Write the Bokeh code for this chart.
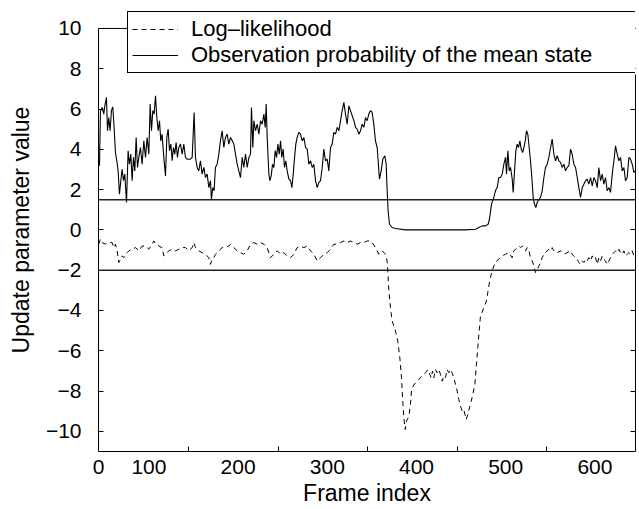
from bokeh.plotting import figure
from bokeh.models import (Range1d, FixedTicker, LinearAxis, Span, Legend,
                          LegendItem, CustomJSTickFormatter)
from bokeh.embed import file_html
from bokeh.resources import INLINE

# ---------------- data ----------------
obs_frame = [
    44.6, 45.7, 47.6, 49.4, 50.6, 52.4, 53.6, 55.0, 56.5, 58.0, 59.5, 61.0, 62.5, 64.0, 65.5,
    67.0, 68.5, 70.0, 71.5, 73.0, 74.9, 76.7, 78.2, 79.7, 81.2, 82.7, 84.2, 85.7, 87.2, 88.7,
    90.5, 92.4, 94.3, 96.2, 98.0, 99.9, 101.4, 102.9, 104.4, 105.9, 107.4, 108.9, 110.4, 111.9,
    113.3, 114.8, 116.7, 118.6, 120.1, 121.6, 123.1, 124.6, 126.1, 127.5, 129.0, 130.5, 132.0,
    133.5, 135.4, 137.3, 139.1, 141.0, 142.9, 144.7, 146.6, 148.5, 150.7, 152.2, 154.1, 155.9,
    157.8, 159.7, 161.6, 163.4, 165.3, 167.2, 169.0, 170.1, 171.6, 173.1, 174.6, 176.5, 178.4,
    180.2, 182.1, 184.0, 185.8, 187.7, 189.6,
    191.5, 193.4, 195.2, 197.1, 199.0, 200.8, 202.7, 204.6, 206.4, 208.3, 210.2, 212.1, 213.9,
    215.0, 216.5, 217.7, 219.5, 221.4, 223.3, 225.1, 227.0, 228.9,
    230.4, 231.5, 232.6, 234.5, 235.6, 237.1, 238.6, 240.1, 241.6, 243.1, 244.6, 246.1, 247.6,
    249.0, 250.5, 252.0, 253.5, 255.0, 256.9, 258.8, 260.3, 261.8, 263.3, 264.7,
    266.2, 268.1, 270.0, 271.8, 273.7, 275.6, 277.5, 279.3, 281.2, 283.1, 284.9, 286.8, 288.7,
    290.5, 292.4, 294.3, 296.1, 298.0, 299.9, 301.7, 303.6, 305.5, 307.3, 309.2, 311.1, 313.0,
    314.8, 316.7, 318.6, 320.4, 322.3, 324.2, 326.0, 327.9, 329.8, 331.6, 333.5, 335.4, 337.2,
    339.1, 341.0,
    342.8, 344.7, 346.5, 348.4, 350.3, 352.1, 354.0, 355.9, 357.0, 358.5, 360.4, 362.2, 364.5,
    366.0, 367.1, 368.2, 369.7, 372.7, 376.4, 387.6, 417.5, 454.9, 466.1, 469.9, 473.6, 477.3,
    480.3, 481.8, 484.1, 486.7, 488.5, 490.4, 492.3,
    494.2, 496.1, 497.9, 499.8, 500.9, 502.4, 503.9, 505.4, 507.3, 508.4, 509.9, 511.4, 512.9,
    514.4, 515.9, 517.4, 518.9, 520.4, 521.9, 523.3, 524.8, 526.3, 527.8, 529.3, 530.8, 532.3,
    533.8, 535.3, 537.2, 539.0, 540.9, 542.8, 544.6, 546.5, 548.4, 550.3, 552.1, 554.0, 555.9,
    557.7, 559.6, 561.5, 563.3, 565.2, 567.1, 568.9, 570.8, 572.7, 574.5, 576.4, 578.3, 580.2,
    582.0, 583.9, 585.8, 587.6, 589.5, 591.4, 593.2, 595.1, 597.0, 598.8, 600.7, 602.6, 604.4,
    606.3, 608.2, 610.0, 611.9, 613.8, 615.7, 617.5, 619.4, 621.3, 623.1, 625.0, 626.9, 628.7,
    630.6, 632.5, 634.3, 636.2, 638.1, 639.9, 641.8, 643.7, 645.5,
]
obs_value = [
    3.18, 5.92, 6.08, 5.75, 6.16, 6.58, 4.92, 5.58, 4.92, 5.92, 6.11, 5.09, 3.84, 3.43, 2.93,
    1.77, 2.44, 3.01, 2.44, 2.77, 1.36, 3.93, 3.26, 3.76, 2.44, 3.60, 2.93, 4.59, 3.10, 3.60,
    4.09, 3.26, 4.42, 3.60, 4.59, 3.76, 6.25, 4.92, 5.92, 5.75, 6.66, 5.58, 4.92, 5.42,
    4.42, 4.75, 3.60, 2.68, 4.59, 5.00, 3.93, 4.26, 3.43, 4.09, 3.76, 4.34, 3.60,
    4.09, 4.26, 3.76, 4.26, 3.60, 3.51, 3.51, 3.51, 3.60, 5.83, 3.60, 3.10, 2.93,
    3.43, 2.77, 3.10, 2.60, 2.77, 2.10, 2.44, 1.52, 2.10, 1.94, 3.10, 3.26, 3.76,
    4.42, 4.92, 4.09, 4.59, 4.75, 4.26,
    4.59, 4.42, 4.26, 3.76, 3.26, 2.93, 2.60, 3.60, 3.10, 3.76, 3.10, 3.60, 3.76,
    6.08, 4.09, 5.42, 4.92, 5.25, 4.75, 5.42, 5.25, 5.75,
    5.09, 6.25, 4.59, 2.77, 2.44, 2.68, 3.26, 3.10, 3.93, 3.60, 4.26, 3.76, 4.42,
    3.60, 4.01, 3.10, 3.43, 2.93, 2.52, 2.44, 2.10, 2.77, 3.60, 4.26,
    4.59, 4.84, 4.75, 4.42, 4.59, 4.09, 4.01, 3.26, 3.43, 3.10, 3.26, 2.44, 2.10,
    2.35, 2.44, 3.10, 4.01, 3.43, 3.51, 2.93, 4.09, 4.26, 4.84, 4.75, 5.09, 4.92,
    5.42, 5.92, 6.33, 5.75, 5.25, 6.16, 5.92, 5.67, 5.42, 5.09, 5.00, 4.75, 4.92,
    5.25, 5.09,
    5.58, 5.42, 5.75, 5.92, 5.83, 5.25, 4.42, 4.09, 3.43, 2.52, 2.93, 3.51, 3.68,
    3.26, 1.94, 0.94, 0.28, 0.12, 0.07, 0.00, 0.00, 0.00, 0.03, 0.12, 0.20, 0.20,
    0.28, 0.53, 1.28, 1.61, 1.94, 2.10, 2.60,
    2.60, 2.77, 3.26, 3.60, 2.77, 3.93, 2.93, 3.10, 2.52, 1.86, 2.93, 3.93, 4.26,
    4.09, 4.42, 4.01, 3.84, 4.09, 4.42, 4.92, 4.75, 4.09, 3.43, 2.60, 1.61, 1.27,
    1.11, 1.36, 1.52, 1.61, 1.94, 2.60, 3.10, 3.26, 3.60, 4.09, 4.51, 3.76, 3.43,
    3.68, 3.43, 3.35, 3.10, 3.26, 2.93, 3.10, 3.18, 4.01, 3.76, 3.26, 3.10, 2.60,
    2.10, 1.61, 2.10, 2.27, 2.44, 2.52, 2.27, 2.60, 2.19, 2.60, 2.44, 2.10, 3.10,
    2.44, 2.77, 2.27, 2.60, 1.94, 2.10, 1.86, 2.77, 3.43, 4.17, 3.76, 3.43, 3.60,
    2.93, 3.10, 2.44, 2.60, 3.60, 3.51, 3.26, 2.85, 2.93,
]

ll_frame = [
    43.8, 45.7, 47.6, 51.3, 55.0, 58.8, 60.7, 62.5, 64.4, 66.3, 68.1, 70.0, 71.9, 73.7, 75.6,
    77.5, 81.2, 85.0, 88.7, 92.4, 96.2, 99.9, 103.6, 105.5, 107.4, 111.1, 114.8, 116.7, 118.6,
    122.3, 126.1, 129.8, 133.5, 137.3, 141.0, 144.7, 148.5, 150.3, 152.2, 155.9, 159.7, 163.4,
    167.2, 169.0, 170.9, 172.8, 174.6, 178.4, 182.1, 185.8, 189.6,
    191.5, 195.2, 199.0, 202.7, 206.4, 210.2, 213.9, 217.7, 221.4, 225.1, 228.9, 232.6, 236.3,
    240.1, 243.8, 247.6, 251.3, 255.0, 258.8, 262.5, 266.2, 270.0, 273.7, 277.5, 281.2, 284.9,
    288.7, 292.4, 296.1, 299.9, 303.6, 307.3, 311.1, 314.8, 318.6, 322.3, 326.0, 329.8, 333.5,
    337.2, 341.0,
    344.7, 348.5, 350.3, 354.0, 357.7, 361.5, 365.2,
    367.1, 367.8, 369.0, 370.8, 372.7, 376.4, 379.0, 381.3, 383.2, 384.6, 385.8, 387.3, 388.8,
    391.4, 393.2, 394.4, 396.2, 398.9, 402.6, 406.3, 410.1, 412.7, 414.9, 416.4, 417.9, 419.4,
    421.3, 423.1, 425.0, 426.9, 428.7, 430.6, 432.5, 434.3, 436.2, 438.1, 439.9, 441.8, 443.7,
    445.6, 447.4, 449.3, 451.2, 453.0, 455.7, 457.5, 459.4, 461.3, 463.1, 465.4, 467.2, 468.7,
    470.2, 471.7, 474.0, 476.2, 478.4, 479.9, 481.4, 482.9, 484.8, 486.7, 489.7, 492.3, 496.0,
    499.7, 503.5, 507.2, 509.1,
    511.0, 512.9, 514.8, 516.6, 518.5, 520.4, 522.2, 524.1, 526.0, 527.8, 529.7, 531.6, 533.4,
    535.3, 537.2, 539.0, 540.9, 542.8, 544.6, 546.5, 548.4, 550.3, 552.1, 554.0, 557.7, 561.5,
    565.2, 568.9, 572.7, 574.5, 576.4, 580.2, 582.0, 583.9, 585.8, 587.6, 589.5, 591.4, 593.2,
    595.1, 597.0, 598.8, 600.7, 602.6, 604.4, 606.3, 608.2, 610.0, 611.9, 613.8, 615.7, 617.5,
    619.4, 621.3, 623.1, 625.0, 626.9, 628.7, 630.6, 632.5, 634.3, 636.2, 638.1, 639.9, 641.8,
    643.7, 645.5,
]
ll_value = [
    -0.71, -0.46, -0.63, -0.71, -0.63, -0.63, -0.88, -0.71, -1.04, -1.62, -1.46, -1.29, -1.38,
    -1.21, -1.13, -1.04, -0.96, -0.88, -1.04, -0.80, -0.80, -0.96, -0.71, -0.55, -0.71, -0.80,
    -0.88, -1.29, -1.21, -1.04, -0.96, -1.04, -0.96, -0.88, -0.88, -1.04, -0.88, -0.63, -0.88,
    -1.04, -1.13, -1.21, -1.38, -1.71, -1.46, -1.38, -1.21, -1.04, -0.88, -0.88, -0.80,
    -0.71, -0.88, -1.04, -1.13, -1.21, -1.04, -0.71, -0.63, -0.71, -0.63, -0.71, -0.88, -1.38,
    -1.21, -1.04, -1.21, -1.13, -1.29, -1.38, -1.21, -0.88, -0.80, -0.88, -0.80, -1.04, -1.21,
    -1.54, -1.38, -1.21, -1.13, -0.96, -0.71, -0.71, -0.63, -0.55, -0.63, -0.55, -0.63, -0.71,
    -0.63, -0.63,
    -0.55, -0.55, -0.63, -0.88, -1.21, -1.04, -1.21,
    -1.54, -2.04, -3.03, -3.86, -4.52, -5.02, -5.52, -6.35, -7.34, -8.50, -9.33, -9.91, -9.49,
    -9.25, -8.67, -8.00, -7.75, -7.59, -7.42, -7.26, -7.09, -6.93, -7.17, -7.34, -7.01, -7.34,
    -6.93, -7.09, -6.93, -7.17, -7.51, -7.26, -7.34, -6.93, -7.09, -6.93, -7.09, -7.34, -7.67,
    -8.00, -8.42, -8.75, -9.00, -8.92, -9.41, -9.16, -8.83, -8.50, -8.17, -7.67, -6.68, -5.85,
    -5.02, -4.28, -4.03, -3.78, -3.53, -3.11, -2.70, -2.37, -2.04, -1.79, -1.54, -1.46, -1.29,
    -1.21, -1.13, -1.38, -1.04,
    -0.96, -0.88, -0.80, -0.88, -0.80, -0.88, -1.04, -0.88, -1.04, -1.38, -1.54, -1.79, -2.12,
    -1.96, -1.79, -1.62, -1.38, -1.21, -1.13, -1.04, -0.96, -1.04, -0.88, -1.04, -1.13, -1.04,
    -1.21, -1.13, -1.04, -1.21, -1.29, -1.46, -1.62, -1.71, -1.54, -1.62, -1.46, -1.54, -1.38,
    -1.54, -1.29, -1.46, -1.38, -1.71, -1.38, -1.54, -1.29, -1.46, -1.54, -1.71, -1.54, -1.38,
    -1.21, -1.13, -1.04, -1.13, -0.96, -1.13, -1.21, -1.04, -1.29, -1.21, -1.13, -1.21, -1.04,
    -1.29, -1.13,
]

threshold_levels = [1.5, -2.0]
x_tick_labels = [100, 200, 300, 400, 500, 600]
x_first_frame = 43.6          # left end of the axis, labelled "0" in the reference
x_tick_marks = [144, 245, 345, 446, 546]
y_ticks = [-10, -8, -6, -4, -2, 0, 2, 4, 6, 8, 10]
y_tick_text = ["\u221210", "\u22128", "\u22126", "\u22124", "\u22122", "0", "2", "4", "6", "8", "10"]
series_names = ["Log\u2013likelihood", "Observation probability of the mean state"]
x_title = "Frame index"
y_title = "Update parameter value"

# ---------------- figure ----------------
FONT = "Liberation Sans"
n1 = min(len(obs_frame), len(obs_value))
n2 = min(len(ll_frame), len(ll_value))

X0, X1 = 43.5, 645.5
Y0, Y1 = -11.0, 10.0
Y_TOP = 10.99   # extra room above the plot box so the legend can overhang it

p = figure(width=639, height=509, x_range=Range1d(X0, X1), y_range=Range1d(Y0, Y_TOP),
           output_backend="svg", toolbar_location=None)
p.min_border_left = 98
p.min_border_right = 4
p.min_border_top = 8
p.min_border_bottom = 58
p.xgrid.visible = False
p.ygrid.visible = False
p.outline_line_color = None
p.background_fill_color = "white"
p.border_fill_color = "white"

xa = p.xaxis[0]
xa.ticker = FixedTicker(ticks=[x_first_frame] + x_tick_labels, minor_ticks=x_tick_marks)
xa.major_label_overrides = {x_first_frame: "0"}
xa.major_tick_in = 0
xa.major_tick_out = 0
xa.minor_tick_in = 5
xa.minor_tick_out = 0
xa.minor_tick_line_color = "black"
xa.axis_line_color = "black"
xa.major_label_text_font = FONT
xa.major_label_text_font_size = "21px"
xa.major_label_text_color = "black"
xa.major_label_standoff = 8
xa.axis_label = x_title
xa.axis_label_text_font = FONT
xa.axis_label_text_font_size = "23px"
xa.axis_label_text_font_style = "normal"
xa.axis_label_text_color = "black"
xa.axis_label_standoff = 3

ya = p.yaxis[0]
ya.bounds = (Y0, Y1)
ya.ticker = FixedTicker(ticks=y_ticks)
ya.major_label_overrides = {v: t for v, t in zip(y_ticks, y_tick_text)}
ya.major_tick_in = 5
ya.major_tick_out = 0
ya.minor_tick_in = 0
ya.minor_tick_out = 0
ya.major_tick_line_color = "black"
ya.axis_line_color = "black"
ya.major_label_text_font = FONT
ya.major_label_text_font_size = "21px"
ya.major_label_text_color = "black"
ya.major_label_standoff = 17
ya.axis_label = y_title
ya.axis_label_text_font = FONT
ya.axis_label_text_font_size = "23px"
ya.axis_label_text_font_style = "normal"
ya.axis_label_text_color = "black"
ya.axis_label_standoff = 9

ra = LinearAxis(ticker=FixedTicker(ticks=y_ticks), bounds=(Y0, 7.7),
                formatter=CustomJSTickFormatter(code="return ''"),
                major_tick_in=5, major_tick_out=0, minor_tick_in=0, minor_tick_out=0,
                major_label_standoff=0, axis_line_color="black", major_tick_line_color="black")
p.add_layout(ra, "right")

# top edge of the plot box
p.add_layout(Span(location=Y1, dimension="width", line_color="black", line_width=1))
for lvl in threshold_levels:
    p.add_layout(Span(location=lvl, dimension="width", line_color="#222222", line_width=1.5))

ll = p.line(ll_frame[:n2], ll_value[:n2], line_color="black", line_width=1, line_dash="5 4")
obs = p.line(obs_frame[:n1], obs_value[:n1], line_color="black", line_width=1.1)

legend = Legend(items=[LegendItem(label=series_names[0], renderers=[ll]),
                       LegendItem(label=series_names[1], renderers=[obs])],
                location=(29, 378), orientation="vertical",
                border_line_color="black", border_line_width=1, border_line_alpha=1,
                background_fill_color="white", background_fill_alpha=1,
                label_text_font=FONT, label_text_font_size="22px", label_text_color="black",
                glyph_width=46, glyph_height=20, label_height=20, label_width=470,
                label_standoff=13, padding=4, spacing=0, margin=0)
p.add_layout(legend)

open("out.html", "w").write(file_html(p, INLINE))
